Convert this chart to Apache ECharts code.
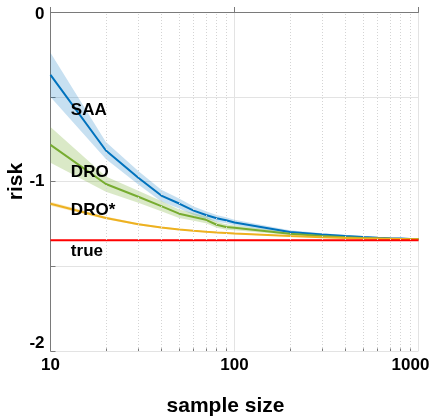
<!DOCTYPE html>
<html>
<head>
<meta charset="utf-8">
<script src="https://cdn.jsdelivr.net/npm/echarts@6/dist/echarts.min.js"></script>
<style>
html,body{margin:0;padding:0;background:#fff;}
#chart{width:432px;height:416px;}
</style>
</head>
<body>
<div id="chart"></div>
<script>
// ---- data ----
var sampleSizes = [10,20,30,40,50,60,70,80,90,100,200,300,400,500,600,700,800,900,1000];

var saaMean = [-0.371,-0.817,-0.978,-1.083,-1.130,-1.172,-1.198,-1.217,-1.229,-1.242,-1.298,-1.313,-1.322,-1.328,-1.332,-1.335,-1.337,-1.339,-1.340];
var saaHigh = [-0.241,-0.767,-0.938,-1.048,-1.100,-1.147,-1.176,-1.197,-1.211,-1.226,-1.288,-1.305,-1.315,-1.322,-1.327,-1.330,-1.332,-1.334,-1.335];
var saaLow  = [-0.501,-0.867,-1.018,-1.118,-1.160,-1.197,-1.220,-1.237,-1.247,-1.258,-1.308,-1.321,-1.329,-1.334,-1.337,-1.340,-1.342,-1.344,-1.345];

var droMean = [-0.784,-1.015,-1.090,-1.145,-1.190,-1.210,-1.226,-1.255,-1.268,-1.273,-1.308,-1.322,-1.329,-1.333,-1.336,-1.338,-1.339,-1.340,-1.341];
var droHigh = [-0.679,-0.970,-1.055,-1.115,-1.165,-1.188,-1.206,-1.237,-1.252,-1.259,-1.300,-1.316,-1.324,-1.328,-1.331,-1.333,-1.334,-1.335,-1.336];
var droLow  = [-0.889,-1.060,-1.125,-1.175,-1.215,-1.232,-1.246,-1.273,-1.284,-1.287,-1.316,-1.328,-1.334,-1.338,-1.341,-1.343,-1.344,-1.345,-1.346];

var droStarMean = [-1.131,-1.215,-1.252,-1.272,-1.283,-1.291,-1.297,-1.301,-1.304,-1.307,-1.322,-1.329,-1.333,-1.336,-1.337,-1.338,-1.339,-1.340,-1.341];
var droStarHigh = [-1.119,-1.207,-1.246,-1.267,-1.279,-1.287,-1.293,-1.297,-1.300,-1.303,-1.319,-1.326,-1.330,-1.333,-1.334,-1.335,-1.336,-1.337,-1.338];
var droStarLow  = [-1.143,-1.223,-1.258,-1.277,-1.287,-1.295,-1.301,-1.305,-1.308,-1.311,-1.325,-1.332,-1.336,-1.339,-1.340,-1.341,-1.342,-1.343,-1.344];

var trueRisk = -1.347;
var trueX = [10, 1000];

var minorGridX = [20,30,40,50,60,70,80,90,200,300,400,500,600,700,800,900];

// labels placed in data coordinates [sample size, risk, text]
var seriesLabels = [[12.9,-0.578,'SAA'],[12.9,-0.943,'DRO'],[12.9,-1.171,'DRO*'],[12.9,-1.414,'true']];

// ---- helpers ----
function pairs(xs, ys){ return xs.map(function(x,i){ return [x, ys[i]]; }); }

var FONT = 'Liberation Sans, Arial, Helvetica, sans-serif';
var BLUE = '#0072BD', GREEN = '#77AC30', YELLOW = '#EDB120', RED = '#FF0000';
var AXIS = '#7a7a7a';

function band(name, lo, hi, color){
  return {
    name:name+'Band', type:'custom', silent:true, z:1, clip:true,
    data:[[sampleSizes[0], lo[0]]],
    encode:{x:0, y:1},
    renderItem:function(params, api){
      var pts = [], i;
      for (i = 0; i < sampleSizes.length; i++) pts.push(api.coord([sampleSizes[i], hi[i]]));
      for (i = sampleSizes.length - 1; i >= 0; i--) pts.push(api.coord([sampleSizes[i], lo[i]]));
      return {type:'polygon', shape:{points:pts}, style:{fill:color, stroke:null}};
    }
  };
}

var chart = echarts.init(document.getElementById('chart'), null, {renderer:'canvas'});

var series = [];
series.push({
  name:'minorGrid', type:'line', data:[], symbol:'none', z:0,
  markLine:{silent:true, symbol:'none', label:{show:false},
    lineStyle:{color:'#d4d4d4', type:[1,2], width:1},
    data:minorGridX.map(function(v){ return {xAxis:v}; })}
});
series.push({
  name:'minorTicks', type:'line', data:[], symbol:'none', z:6,
  markLine:{silent:true, symbol:'none', label:{show:false},
    lineStyle:{color:AXIS, type:'solid', width:1},
    data:minorGridX.map(function(v){ return [{coord:[v,-2]},{coord:[v,-1.985]}]; })}
});
series.push(band('saa', saaLow, saaHigh, 'rgba(0,114,189,0.22)'));
series.push(band('dro', droLow, droHigh, 'rgba(119,172,48,0.27)'));
series.push(band('droStar', droStarLow, droStarHigh, 'rgba(237,177,32,0.25)'));
series.push({name:'SAA', type:'line', data:pairs(sampleSizes, saaMean), symbol:'none', lineStyle:{color:BLUE, width:2}, z:3});
series.push({name:'DRO', type:'line', data:pairs(sampleSizes, droMean), symbol:'none', lineStyle:{color:GREEN, width:2}, z:3});
series.push({name:'DRO*', type:'line', data:pairs(sampleSizes, droStarMean), symbol:'none', lineStyle:{color:YELLOW, width:2}, z:3});
series.push({name:'true', type:'line', data:trueX.map(function(x){ return [x, trueRisk]; }), symbol:'none', lineStyle:{color:RED, width:2}, z:4});
series.push({
  name:'labels', type:'scatter', symbolSize:0, silent:true, z:5,
  itemStyle:{opacity:1, color:'#000'},
  data:seriesLabels,
  label:{show:true, position:'right', distance:0, color:'#000', opacity:1, textBorderWidth:0,
    fontFamily:FONT, fontWeight:'bold', fontSize:17,
    formatter:function(p){ return p.value[2]; }}
});

var option = {
  animation:false,
  backgroundColor:'#fff',
  grid:{left:50.5, right:13.5, top:12, bottom:65, containLabel:false, outerBoundsMode:'none'},
  xAxis:{
    type:'log', logBase:10, min:10, max:1000,
    name:'sample size', nameLocation:'middle', nameGap:45,
    nameTextStyle:{color:'#000', fontFamily:FONT, fontWeight:'bold', fontSize:21, padding:[0,18,0,0]},
    axisLine:{show:true, lineStyle:{color:AXIS, width:1}},
    axisTick:{show:true, inside:true, length:5, lineStyle:{color:AXIS}},
    axisLabel:{color:'#000', fontFamily:FONT, fontWeight:'bold', fontSize:17, margin:6,
      formatter:function(v){ return v===1000 ? '{r|1000}' : String(v); },
      rich:{r:{color:'#000', fontFamily:FONT, fontWeight:'bold', fontSize:17, padding:[0,16,0,0]}}},
    splitLine:{show:true, lineStyle:{color:'#e3e3e3', width:1}}
  },
  yAxis:{
    type:'value', min:-2, max:0, interval:0.5,
    name:'risk', nameLocation:'middle', nameGap:24, nameMoveOverlap:false,
    nameTextStyle:{color:'#000', fontFamily:FONT, fontWeight:'bold', fontSize:21},
    axisLine:{show:true, lineStyle:{color:AXIS, width:1}},
    axisTick:{show:true, inside:true, length:5, lineStyle:{color:AXIS}},
    axisLabel:{color:'#000', fontFamily:FONT, fontWeight:'bold', fontSize:17, margin:6,
      formatter:function(v){
        if (Math.abs(v - Math.round(v)) > 1e-9) return '';
        var r = Math.round(v);
        if (r === -2) return '{lo|-2}';
        if (r === 0) return '{hi|0}';
        return String(r);
      },
      rich:{
        lo:{color:'#000', fontFamily:FONT, fontWeight:'bold', fontSize:17, padding:[0,0,16,0]},
        hi:{color:'#000', fontFamily:FONT, fontWeight:'bold', fontSize:17, padding:[5,0,0,0]}
      }},
    splitLine:{show:true, lineStyle:{color:'#e3e3e3', width:1}}
  },
  series:series
};
chart.setOption(option);
</script>
</body>
</html>
